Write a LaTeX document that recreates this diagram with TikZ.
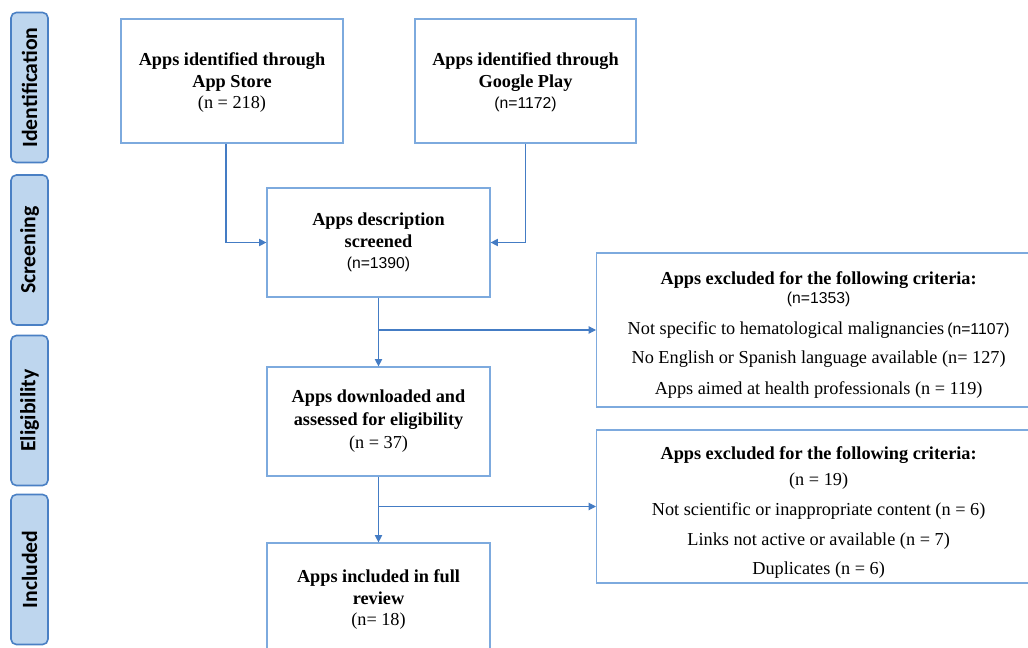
\documentclass[tikz,border=0pt]{standalone}
\usepackage{fontspec}
\setmainfont{Liberation Serif}
\newfontfamily\arialf{Liberation Sans}
\newfontfamily\calf{Carlito}
\usetikzlibrary{arrows.meta}
\definecolor{boxc}{RGB}{125,170,222}
\definecolor{arrc}{RGB}{68,124,196}
\definecolor{tabf}{RGB}{190,214,238}
\definecolor{tabb}{RGB}{74,128,196}
\tikzset{
  stagetab/.style={draw=tabb, fill=tabf, line width=1.2pt, rounded corners=4pt, rotate=90,
    minimum width={150*0.75pt}, minimum height={37*0.75pt}, inner sep=0pt,
    font=\calf\bfseries\fontsize{16.3}{18}\selectfont},
  flowbox/.style={draw=boxc, line width=0.9pt, align=center, inner sep=0pt,
    font=\fontsize{13.7}{16.2}\selectfont},
  conn/.style={draw=arrc, line width=0.8pt},
  arr/.style={conn, -{Triangle[length=5.5pt,width=5.5pt]}}
}
\newcommand{\sn}[1]{{\arialf\fontsize{11.8}{12}\selectfont #1}}
\begin{document}
\begin{tikzpicture}[x=0.75pt,y=-0.75pt]
\useasboundingbox (0,0) rectangle (1028,648);
\clip (0,0) rectangle (1028,648);
\fill[white] (0,0) rectangle (1028,648);

% stage tabs
\node[stagetab] (tid) at (29.5,87.5) {Identification};
\node[stagetab] (tsc) at (29.5,250) {Screening};
\node[stagetab] (tel) at (29.5,410.5) {Eligibility};
\node[stagetab] (tin) at (29.5,569.5) {Included};

% boxes
\node[flowbox, minimum width={222*0.75pt}, minimum height={124*0.75pt}] (as) at (232,81)
  {\rule{0pt}{12pt}\textbf{Apps identified through}\\\textbf{App Store}\\(n = 218)};
\node[flowbox, minimum width={221*0.75pt}, minimum height={124*0.75pt}] (gp) at (525.5,81)
  {\rule{0pt}{12pt}\textbf{Apps identified through}\\\textbf{Google Play}\\\sn{(n=1172)}};
\node[flowbox, minimum width={223*0.75pt}, minimum height={109*0.75pt}] (scr) at (378.5,242.5)
  {\textbf{Apps description}\\\textbf{screened}\\\sn{(n=1390)}};
\node[flowbox, minimum width={223*0.75pt}, minimum height={109*0.75pt}] (elig) at (378.5,421.5)
  {\textbf{Apps downloaded and}\\[1pt]\textbf{assessed for eligibility}\\[1pt](n = 37)};
\node[flowbox, minimum width={223*0.75pt}, minimum height={110*0.75pt}] (inc) at (378.5,598)
  {\rule{0pt}{12pt}\textbf{Apps included in full}\\\textbf{review}\\(n= 18)};

\node[flowbox, minimum width={444*0.75pt}, minimum height={154*0.75pt}, anchor=west] (ex1) at (596,330)
  {\rule{0pt}{17pt}\textbf{Apps excluded for the following criteria:}\\[-2pt]
   \sn{(n=1353)}\\[7pt]
   Not specific to hematological malignancies\,\sn{(n=1107)}\\[5.5pt]
   No English or Spanish language available (n= 127)\\[7pt]
   Apps aimed at health professionals (n = 119)};
\node[flowbox, minimum width={444*0.75pt}, minimum height={153*0.75pt}, anchor=west] (ex2) at (596,506.5)
  {\rule{0pt}{18.5pt}\textbf{Apps excluded for the following criteria:}\\[3.5pt]
   (n = 19)\\[5.8pt]
   Not scientific or inappropriate content (n = 6)\\[6.3pt]
   Links not active or available (n = 7)\\[5.8pt]
   Duplicates (n = 6)};

% connectors
\draw[arr] ([xshift={-6*0.75pt}]as.south) |- (scr.west);
\draw[arr] (gp.south) |- (scr.east);
\draw[arr] (scr.south) -- (elig.north);
\draw[arr] (scr.south |- ex1.west) -- (ex1.west);
\draw[arr] (elig.south) -- (inc.north);
\draw[arr] (elig.south |- ex2.west) -- (ex2.west);
\end{tikzpicture}
\end{document}
